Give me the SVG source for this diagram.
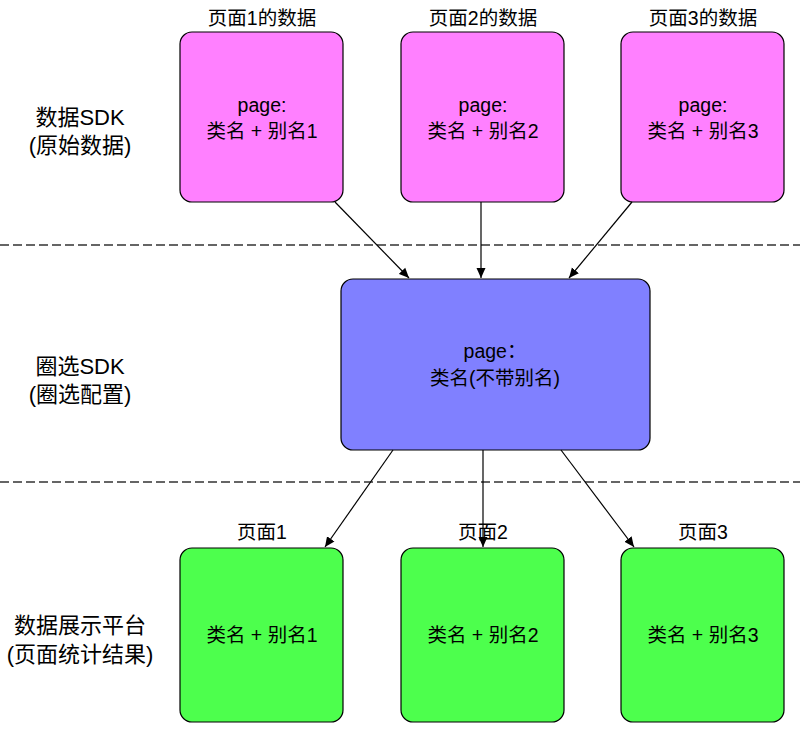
<svg xmlns="http://www.w3.org/2000/svg" width="800" height="730" viewBox="0 0 800 730">
<style>
text{font-family:"Liberation Sans","Noto Sans CJK SC",sans-serif;font-size:19.5px;fill:#000;text-anchor:middle}
.src rect{fill:#ff80ff;stroke:#000;stroke-width:1.2}
.mid rect{fill:#8080ff;stroke:#000;stroke-width:1.2}
.dst rect{fill:#4dff4d;stroke:#000;stroke-width:1.2}
.dash{stroke:#333;stroke-width:1.3;stroke-dasharray:9 4;fill:none}
.conn line{stroke:#000;stroke-width:1.2;marker-end:url(#ah)}
.lbl{font-size:22px}
</style>
<defs>
<marker id="ah" viewBox="0 0 10 10" refX="10" refY="5" markerWidth="10" markerHeight="10" markerUnits="userSpaceOnUse" orient="auto">
<path d="M0,0.5 L10,5 L0,9.5 Z" fill="#000"/>
</marker>
</defs>
<rect width="800" height="730" fill="#fff"/>
<line class="dash" x1="0" y1="245" x2="800" y2="245"/>
<line class="dash" x1="0" y1="482" x2="800" y2="482"/>
<g id="label-sdk"><text class="lbl" x="80" y="125">数据SDK</text><text class="lbl" x="80" y="153">(原始数据)</text></g>
<g id="label-select"><text class="lbl" x="80" y="374">圈选SDK</text><text class="lbl" x="80" y="402">(圈选配置)</text></g>
<g id="label-display"><text class="lbl" x="80" y="633">数据展示平台</text><text class="lbl" x="80" y="662">(页面统计结果)</text></g>
<g id="src1" class="src"><text x="262" y="25">页面1的数据</text><rect x="180" y="32" width="163" height="170" rx="12"/><text x="262" y="112">page:</text><text x="262" y="138">类名 + 别名1</text></g>
<g id="src2" class="src"><text x="483" y="25">页面2的数据</text><rect x="401" y="32" width="163" height="170" rx="12"/><text x="483" y="112">page:</text><text x="483" y="138">类名 + 别名2</text></g>
<g id="src3" class="src"><text x="703" y="25">页面3的数据</text><rect x="621" y="32" width="163" height="170" rx="12"/><text x="703" y="112">page:</text><text x="703" y="138">类名 + 别名3</text></g>
<g id="mid" class="mid"><rect x="341" y="279" width="309" height="171" rx="12"/><text x="495" y="358">page：</text><text x="495" y="385">类名(不带别名)</text></g>
<g id="dst1" class="dst"><text x="262" y="539">页面1</text><rect x="180" y="548" width="163" height="174" rx="12"/><text x="262" y="642">类名 + 别名1</text></g>
<g id="dst2" class="dst"><text x="483" y="539">页面2</text><rect x="401" y="548" width="163" height="174" rx="12"/><text x="483" y="642">类名 + 别名2</text></g>
<g id="dst3" class="dst"><text x="703" y="539">页面3</text><rect x="621" y="548" width="163" height="174" rx="12"/><text x="703" y="642">类名 + 别名3</text></g>
<g id="connectors" class="conn">
<line x1="335" y1="202" x2="409" y2="278"/>
<line x1="481" y1="202" x2="481" y2="278"/>
<line x1="632" y1="202" x2="569" y2="278"/>
<line x1="393" y1="450" x2="325" y2="547"/>
<line x1="483" y1="450" x2="483" y2="547"/>
<line x1="561" y1="450" x2="634" y2="547"/>
</g>
</svg>
